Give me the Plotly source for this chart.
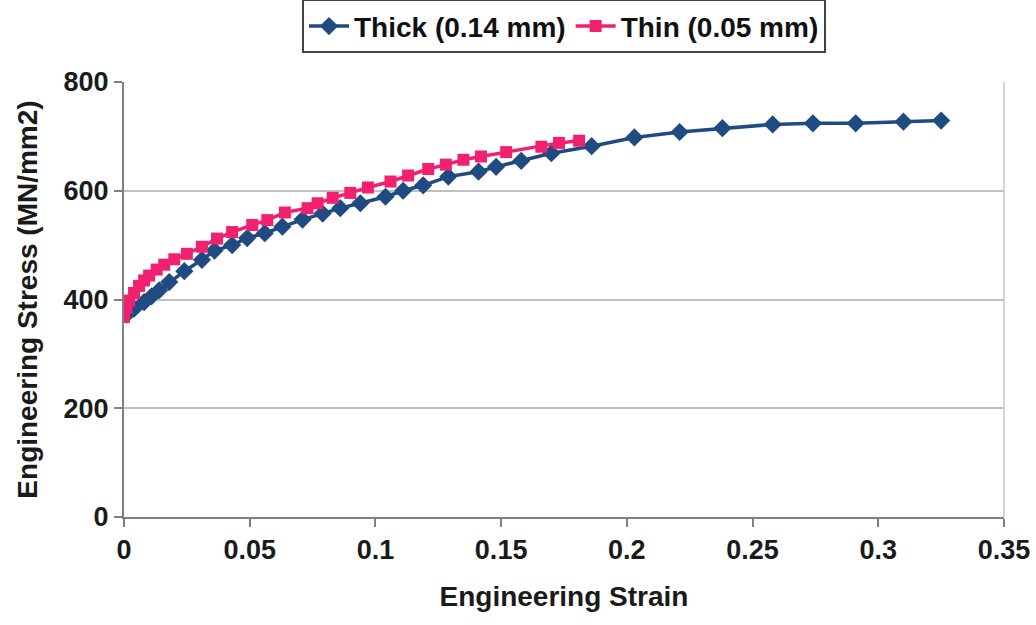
import plotly.graph_objects as go

# Engineering stress–strain data for two foil thicknesses
thick_strain = [0.001, 0.004, 0.008, 0.011, 0.014, 0.018, 0.024, 0.031, 0.036, 0.043,
                0.049, 0.056, 0.063, 0.071, 0.079, 0.086, 0.094, 0.104, 0.111, 0.119,
                0.129, 0.141, 0.148, 0.158, 0.170, 0.186, 0.203, 0.221, 0.238, 0.258,
                0.274, 0.291, 0.310, 0.325]
thick_stress = [372, 383, 395, 406, 417, 432, 452, 473, 490, 500,
                513, 522, 534, 547, 558, 568, 577, 589, 600, 610,
                626, 635, 644, 655, 669, 682, 698, 708, 715, 722,
                724, 724, 727, 729]

thin_strain = [0.000, 0.001, 0.002, 0.004, 0.006, 0.008, 0.010, 0.013, 0.016, 0.020,
               0.025, 0.031, 0.037, 0.043, 0.051, 0.057, 0.064, 0.073, 0.077, 0.083,
               0.090, 0.097, 0.106, 0.113, 0.121, 0.128, 0.135, 0.142, 0.152, 0.166,
               0.173, 0.181]
thin_stress = [368, 385, 398, 412, 425, 435, 444, 455, 464, 474,
               484, 497, 512, 524, 537, 546, 560, 568, 577, 587,
               596, 606, 617, 628, 640, 648, 657, 663, 671, 681,
               688, 692]

x_ticks = [0, 0.05, 0.1, 0.15, 0.2, 0.25, 0.3, 0.35]
x_tick_labels = ["0", "0.05", "0.1", "0.15", "0.2", "0.25", "0.3", "0.35"]
y_ticks = [0, 200, 400, 600, 800]

BLUE = "#1F4B82"
PINK = "#F2216F"
FAMILY = "Arial, Liberation Sans, sans-serif"
TICK_FONT = dict(family=FAMILY, size=27, color="#1a1a1a", weight="bold")
TITLE_FONT = dict(family=FAMILY, size=28, color="#1a1a1a", weight="bold")

fig = go.Figure()
fig.add_trace(go.Scatter(
    x=thick_strain, y=thick_stress, mode="lines+markers", name="Thick (0.14 mm)",
    line=dict(color=BLUE, width=3.5),
    marker=dict(symbol="diamond", size=14, color=BLUE),
))
fig.add_trace(go.Scatter(
    x=thin_strain, y=thin_stress, mode="lines+markers", name="Thin (0.05 mm)",
    line=dict(color=PINK, width=3.5),
    marker=dict(symbol="square", size=12, color=PINK),
))

# light frame on the right edge of the plot area
fig.add_shape(type="line", xref="paper", yref="paper", x0=1, x1=1, y0=0, y1=1,
              line=dict(color="#c8c8c8", width=1.5))

fig.update_layout(
    width=1036, height=625,
    margin=dict(l=124, r=32, t=82, b=108, autoexpand=False),
    paper_bgcolor="white", plot_bgcolor="white",
    font=TICK_FONT,
    showlegend=True,
    legend=dict(
        orientation="h", x=0.5, xanchor="center", y=1.19, yanchor="top",
        bordercolor="#444444", borderwidth=2, bgcolor="white",
        font=dict(family=FAMILY, size=28, color="#111111", weight="bold"),
        itemwidth=40, tracegroupgap=0,
    ),
    xaxis=dict(
        range=[0, 0.35], tickvals=x_ticks, ticktext=x_tick_labels, automargin=False,
        showgrid=False, zeroline=False,
        showline=True, linecolor="#808080", linewidth=2,
        ticks="outside", ticklen=8, tickcolor="#808080", tickwidth=1.5,
        tickfont=TICK_FONT,
        title=dict(text="Engineering Strain", standoff=22, font=TITLE_FONT),
    ),
    yaxis=dict(
        range=[0, 800], tickvals=y_ticks, automargin=False,
        showgrid=True, gridcolor="#c0c0c0", gridwidth=1.5, zeroline=False,
        showline=True, linecolor="#808080", linewidth=2,
        ticks="outside", ticklen=8, tickcolor="#808080", tickwidth=1.5,
        tickfont=TICK_FONT,
        title=dict(text="Engineering Stress (MN/mm2)", standoff=18, font=TITLE_FONT),
    ),
)

fig.write_html("out.html")
